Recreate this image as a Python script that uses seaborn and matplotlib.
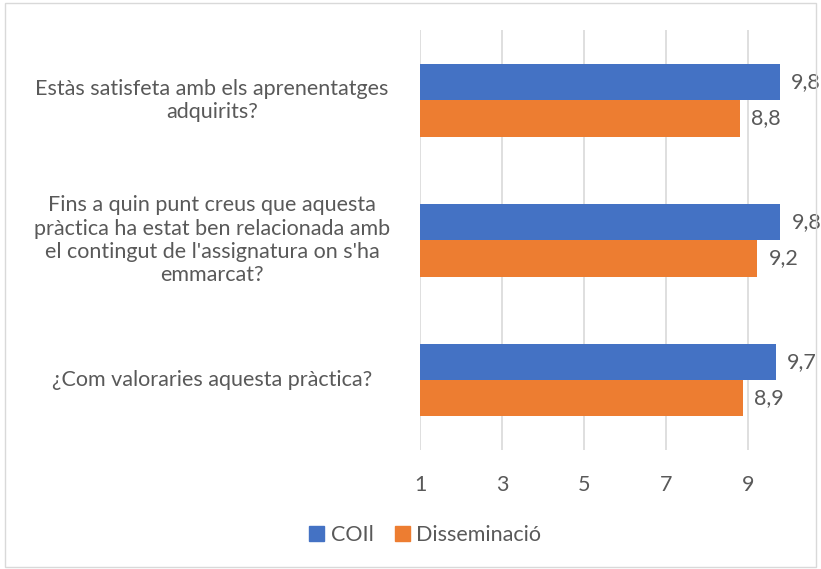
import matplotlib
matplotlib.use('Agg')
import matplotlib.pyplot as plt
import pandas as pd
import seaborn as sns

questions = [
    "Estàs satisfeta amb els aprenentatges\nadquirits?",
    "Fins a quin punt creus que aquesta\npràctica ha estat ben relacionada amb\nel contingut de l'assignatura on s'ha\nemmarcat?",
    "¿Com valoraries aquesta pràctica?",
]
coil = [9.76, 9.78, 9.66]
dissem = [8.80, 9.22, 8.87]
series = ["COIl", "Disseminació"]
colors = ["#4472C4", "#ED7D31"]

df = pd.DataFrame({
    "pregunta": questions * 2,
    "valor": coil + dissem,
    "serie": [series[0]] * 3 + [series[1]] * 3,
})

sns.set_theme(style="white")
plt.rcParams['font.family'] = ['Lato', 'DejaVu Sans']
grey = "#595959"
fs = 15.5

fig = plt.figure(figsize=(8.21, 5.69), dpi=100)
ax = fig.add_axes([0.5116, 0.209, 0.45, 0.738])

sns.barplot(data=df, y="pregunta", x="valor", hue="serie", palette=colors,
            orient="h", width=0.52, ax=ax, legend=False, saturation=1)

# bars start from 1 like the original axis
for p in ax.patches:
    w = p.get_width()
    p.set_x(1)
    p.set_width(w - 1)
    p.set_linewidth(0)

for cont in ax.containers:
    labs = [f"{p.get_x() + p.get_width():.1f}".replace(".", ",") for p in cont]
    ax.bar_label(cont, labels=labs, padding=8, fontsize=fs, color=grey)

ax.set_xlim(1, 10)
ax.set_ylim(2.5, -0.5)
ax.set_xticks([1, 3, 5, 7, 9])
ax.xaxis.grid(True, color="#D9D9D9", linewidth=1.2)
ax.set_axisbelow(True)
for s in ax.spines.values():
    s.set_visible(False)
ax.set_xlabel("")
ax.set_ylabel("")
ax.tick_params(axis="x", colors=grey, labelsize=fs, length=0, pad=18)
ax.tick_params(axis="y", length=0)
ax.set_yticks([])

for i, q in enumerate(questions):
    ax.text(-0.563, i, q, transform=ax.get_yaxis_transform(), ha="center",
            va="center", multialignment="center", fontsize=fs, color=grey,
            linespacing=1.2)

handles = [plt.Rectangle((0, 0), 1, 1, color=c) for c in colors]
fig.legend(handles, series, loc="center", bbox_to_anchor=(0.518, 0.06),
           ncol=2, frameon=False, fontsize=fs, labelcolor=grey,
           handlelength=0.7, handleheight=0.7, handletextpad=0.3,
           columnspacing=1.0)

fig.patches.append(plt.Rectangle((0.006, 0.004), 0.988, 0.99, transform=fig.transFigure,
                                 fill=False, edgecolor="#D9D9D9", linewidth=1))

fig.savefig("out.png", dpi=100)
